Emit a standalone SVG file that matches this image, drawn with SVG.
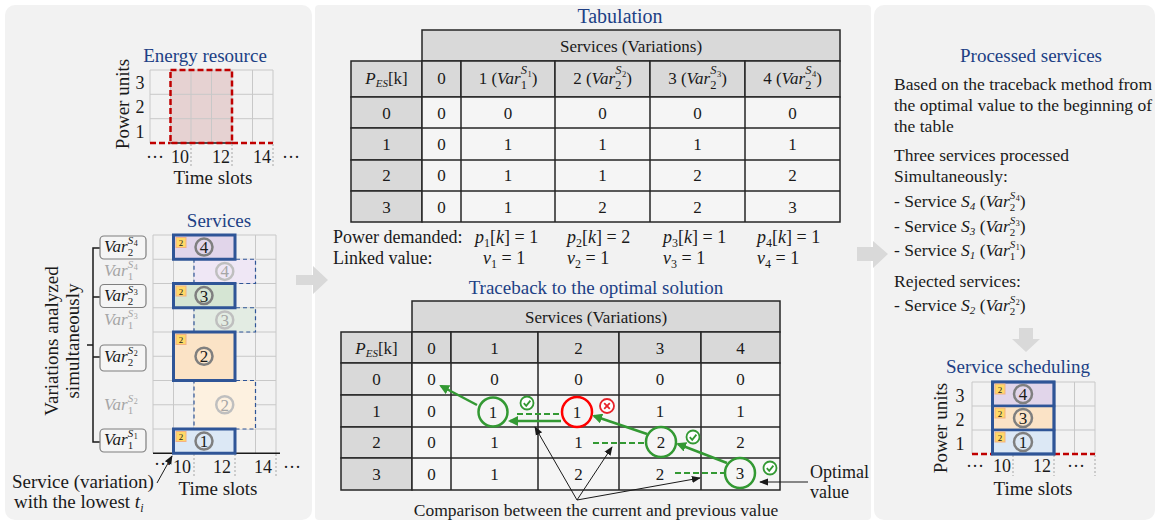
<svg xmlns="http://www.w3.org/2000/svg" width="1159" height="523" viewBox="0 0 1159 523">
<style>
text{font-family:"Liberation Serif","Times New Roman",serif;fill:#1a1a1a}
.t{font-size:18px}
.ax{font-size:19px}
.ttl{font-size:19px;fill:#203f85}
.tc{font-size:17px;text-anchor:middle}
.rp{font-size:17.5px}
.it{font-style:italic}
.g{fill:#a6a6a6}
.grid{stroke:#c8c8c8;stroke-width:1;fill:none}
.hdr{fill:#d9d9d9;stroke:#262626;stroke-width:1.5}
.cell{fill:#f5f5f5;stroke:#262626;stroke-width:1.5}
.sol{stroke:#2f5597;stroke-width:3}
.dsh{stroke:#2f5597;stroke-width:1.2;stroke-dasharray:4 3}
.cir{fill:none;stroke:#7f7f7f;stroke-width:2.5}
.cirl{fill:none;stroke:#bfbfbf;stroke-width:2.5}
.badge{fill:#ffd966;stroke:#f4b183;stroke-width:1}
.bt{font-size:9px}
.dot{stroke:#a6a6a6;stroke-width:1;stroke-dasharray:2 2}
.red{stroke:#c00000;stroke-width:2.5;stroke-dasharray:6 3;fill:none}
.ga{stroke:#339933;stroke-width:2.5;fill:none}
.gd{stroke:#339933;stroke-width:2;stroke-dasharray:6 3;fill:none}
.ba{stroke:#1a1a1a;stroke-width:1;fill:none}
.lbox{fill:#f5f5f5;stroke:#7f7f7f;stroke-width:1.2}
.panel{fill:#f2f2f2}
.garr{fill:#d9d9d9}
.lv{font-size:17px;font-style:italic}
.s11{font-size:11px;font-style:normal}
.S11{font-size:11px;font-style:italic}
.s13{font-size:12.5px;font-style:normal}
.S13{font-size:12.5px;font-style:italic}
.s8{font-size:8px;font-style:normal}
.s9{font-size:8.5px;font-style:normal}
</style>
<defs>
<marker id="mg" viewBox="0 0 10 10" refX="8" refY="5" markerWidth="4" markerHeight="4" orient="auto"><path d="M0,0 L10,5 L0,10 z" fill="#339933"/></marker>
<marker id="mb" viewBox="0 0 10 10" refX="9" refY="5" markerWidth="9" markerHeight="9" orient="auto"><path d="M0,1 L10,5 L0,9 z" fill="#1a1a1a"/></marker>
<g id="chk"><circle r="6.5" fill="#fff" stroke="#339933" stroke-width="1.8"/><path d="M-3.2,0.2 L-0.8,2.8 L3.4,-2.4" stroke="#339933" stroke-width="1.8" fill="none"/></g>
<g id="crs"><circle r="7" fill="#fff" stroke="#e8232a" stroke-width="1.8"/><path d="M-2.8,-2.8 L2.8,2.8 M2.8,-2.8 L-2.8,2.8" stroke="#e8232a" stroke-width="1.8"/></g>
</defs>
<rect width="1159" height="523" fill="#fff"/>
<rect class="panel" x="5" y="5" width="307" height="515" rx="10"/>
<rect class="panel" x="315" y="5" width="556" height="515" rx="4"/>
<rect class="panel" x="874" y="5" width="281" height="515" rx="10"/>

<g id="energy-resource">
<text class="ttl" x="205" y="62" text-anchor="middle">Energy resource</text>
<rect x="170.5" y="70" width="61.5" height="73" fill="#e6d2d2"/>
<path class="grid" d="M150,70H273M150,94.3H273M150,118.7H273M150,70V143M170.5,70V143M191,70V143M211.5,70V143M232,70V143M252.5,70V143M273,70V143"/>
<line x1="170.5" y1="143" x2="232" y2="143" stroke="#1a1a1a" stroke-width="1.5"/>
<rect class="red" x="170.5" y="70" width="61.5" height="73"/>
<path class="red" d="M150,143H170.5M232,143H273"/>
<path class="dot" d="M191,144V168M232,144V168M273,144V168"/>
<text class="t" x="140" y="89" text-anchor="middle">3</text>
<text class="t" x="140" y="113" text-anchor="middle">2</text>
<text class="t" x="140" y="138" text-anchor="middle">1</text>
<text class="ax" transform="translate(129,104) rotate(-90)" text-anchor="middle">Power units</text>
<text class="t" x="155" y="163" text-anchor="middle">···</text>
<text class="t" x="180" y="163" text-anchor="middle">10</text>
<text class="t" x="221" y="163" text-anchor="middle">12</text>
<text class="t" x="262" y="163" text-anchor="middle">14</text>
<text class="t" x="291" y="163" text-anchor="middle">···</text>
<text class="ax" x="213" y="184" text-anchor="middle">Time slots</text>
</g>

<g id="services">
<text class="ttl" x="219" y="227" text-anchor="middle">Services</text>
<path class="grid" d="M153,235H276M153,259.25H276M153,283.5H276M153,307.75H276M153,332H276M153,356.25H276M153,380.5H276M153,404.75H276M153,429H276M153,235V453M173.5,235V453M194,235V453M214.5,235V453M235,235V453M255.5,235V453M276,235V453"/>
<line x1="153" y1="453.25" x2="280" y2="453.25" stroke="#1a1a1a" stroke-width="1.5"/>
<path class="dot" d="M194,454V476M235,454V476M276,454V476"/>
<rect class="dsh" x="194" y="259.25" width="61.5" height="24.25" fill="#efe7f5"/>
<circle class="cirl" cx="224.75" cy="271.4" r="8.5"/><text class="tc g" x="224.75" y="277.3">4</text>
<rect class="sol" x="173.5" y="235" width="61.5" height="24.25" fill="#e1d5ea"/>
<rect class="badge" x="176" y="237.5" width="10" height="10"/><text class="bt" x="181" y="246" text-anchor="middle">2</text>
<circle class="cir" cx="204" cy="247.1" r="8.5"/><text class="tc" x="204" y="253">4</text>
<rect class="dsh" x="194" y="307.75" width="61.5" height="24.25" fill="#e3ece3"/>
<circle class="cirl" cx="224.75" cy="319.9" r="8.5"/><text class="tc g" x="224.75" y="325.8">3</text>
<rect class="sol" x="173.5" y="283.5" width="61.5" height="24.25" fill="#d5e5d3"/>
<rect class="badge" x="176" y="286" width="10" height="10"/><text class="bt" x="181" y="294.5" text-anchor="middle">2</text>
<circle class="cir" cx="204" cy="295.6" r="8.5"/><text class="tc" x="204" y="301.5">3</text>
<rect class="dsh" x="194" y="380.5" width="61.5" height="48.5" fill="#fdf1e0"/>
<circle class="cirl" cx="224.75" cy="404.75" r="8.5"/><text class="tc g" x="224.75" y="410.7">2</text>
<rect class="sol" x="173.5" y="332" width="61.5" height="48.5" fill="#fbe3c6"/>
<rect class="badge" x="176" y="334.5" width="10" height="10"/><text class="bt" x="181" y="343" text-anchor="middle">2</text>
<circle class="cir" cx="204" cy="356.25" r="8.5"/><text class="tc" x="204" y="362.2">2</text>
<rect class="sol" x="173.5" y="429" width="61.5" height="24.25" fill="#dce8f5"/>
<rect class="badge" x="176" y="431.5" width="10" height="10"/><text class="bt" x="181" y="440" text-anchor="middle">2</text>
<circle class="cir" cx="204" cy="441.1" r="8.5"/><text class="tc" x="204" y="447">1</text>
<text class="t" x="163" y="470" text-anchor="middle">···</text>
<text class="t" x="182" y="473" text-anchor="middle">10</text>
<text class="t" x="222" y="473" text-anchor="middle">12</text>
<text class="t" x="263" y="473" text-anchor="middle">14</text>
<text class="t" x="292" y="473" text-anchor="middle">···</text>
<text class="ax" x="218" y="495" text-anchor="middle">Time slots</text>
</g>

<g id="variation-labels">
<path d="M100,248H93V442H100M93,297H100M93,357H100M93,345H87" stroke="#1a1a1a" stroke-width="1.5" fill="none"/>
<text class="ax" transform="translate(58,341) rotate(-90)" text-anchor="middle">Variations analyzed</text>
<text class="ax" transform="translate(79,341) rotate(-90)" text-anchor="middle">simultaneously</text>
<rect class="lbox" x="100" y="236" width="46" height="23" rx="4"/>
<text class="lv" x="104" y="252">Var<tspan class="s11" dy="4">2</tspan><tspan class="S11" dx="-5.5" dy="-12">S</tspan><tspan class="s8" dx="0.5" dy="2">4</tspan></text>
<text class="lv g" x="104" y="276">Var<tspan class="s11" dy="4">1</tspan><tspan class="S11" dx="-5.5" dy="-12">S</tspan><tspan class="s8" dx="0.5" dy="2">4</tspan></text>
<rect class="lbox" x="100" y="284.5" width="46" height="23" rx="4"/>
<text class="lv" x="104" y="300.5">Var<tspan class="s11" dy="4">2</tspan><tspan class="S11" dx="-5.5" dy="-12">S</tspan><tspan class="s8" dx="0.5" dy="2">3</tspan></text>
<text class="lv g" x="104" y="325">Var<tspan class="s11" dy="4">1</tspan><tspan class="S11" dx="-5.5" dy="-12">S</tspan><tspan class="s8" dx="0.5" dy="2">3</tspan></text>
<rect class="lbox" x="100" y="345" width="46" height="26" rx="4"/>
<text class="lv" x="104" y="362">Var<tspan class="s11" dy="4">2</tspan><tspan class="S11" dx="-5.5" dy="-12">S</tspan><tspan class="s8" dx="0.5" dy="2">2</tspan></text>
<text class="lv g" x="104" y="410">Var<tspan class="s11" dy="4">1</tspan><tspan class="S11" dx="-5.5" dy="-12">S</tspan><tspan class="s8" dx="0.5" dy="2">2</tspan></text>
<rect class="lbox" x="100" y="429" width="46" height="23" rx="4"/>
<text class="lv" x="104" y="445">Var<tspan class="s11" dy="4">1</tspan><tspan class="S11" dx="-5.5" dy="-12">S</tspan><tspan class="s8" dx="0.5" dy="2">1</tspan></text>
</g>

<g id="lowest-note">
<text class="ax" x="12" y="488">Service (variation)</text>
<text class="ax" x="14" y="508">with the lowest <tspan class="it">t</tspan><tspan class="it" style="font-size:12px" dy="4">i</tspan></text>
</g>

<g id="tabulation">
<text class="ttl" x="620" y="23" text-anchor="middle" style="font-size:20px">Tabulation</text>
<rect class="hdr" x="422" y="30" width="418" height="31"/>
<text class="tc" x="631" y="52">Services (Variations)</text>
<rect class="hdr" x="351" y="61" width="71" height="36"/>
<rect class="hdr" x="422" y="61" width="39" height="36"/>
<rect class="hdr" x="461" y="61" width="94" height="36"/>
<rect class="hdr" x="555" y="61" width="95" height="36"/>
<rect class="hdr" x="650" y="61" width="95" height="36"/>
<rect class="hdr" x="745" y="61" width="95" height="36"/>
<text class="tc" x="386.5" y="84"><tspan class="it">P</tspan><tspan class="it" style="font-size:11px" dy="3">ES</tspan><tspan dy="-3">[k]</tspan></text>
<text class="tc" x="441.5" y="84">0</text>
<text class="tc" x="508" y="84">1 (<tspan class="it">Var</tspan><tspan class="s13" dy="5">1</tspan><tspan class="S13" dx="-6.3" dy="-15">S</tspan><tspan class="s9" dx="0.5" dy="3">1</tspan><tspan dy="7">)</tspan></text>
<text class="tc" x="602.5" y="84">2 (<tspan class="it">Var</tspan><tspan class="s13" dy="5">2</tspan><tspan class="S13" dx="-6.3" dy="-15">S</tspan><tspan class="s9" dx="0.5" dy="3">2</tspan><tspan dy="7">)</tspan></text>
<text class="tc" x="697.5" y="84">3 (<tspan class="it">Var</tspan><tspan class="s13" dy="5">2</tspan><tspan class="S13" dx="-6.3" dy="-15">S</tspan><tspan class="s9" dx="0.5" dy="3">3</tspan><tspan dy="7">)</tspan></text>
<text class="tc" x="792.5" y="84">4 (<tspan class="it">Var</tspan><tspan class="s13" dy="5">2</tspan><tspan class="S13" dx="-6.3" dy="-15">S</tspan><tspan class="s9" dx="0.5" dy="3">4</tspan><tspan dy="7">)</tspan></text>
<rect class="hdr" x="351" y="97" width="71" height="31"/><rect class="hdr" x="351" y="128" width="71" height="32"/><rect class="hdr" x="351" y="160" width="71" height="31"/><rect class="hdr" x="351" y="191" width="71" height="31"/>
<rect class="cell" x="422" y="97" width="418" height="125"/>
<path d="M422,128H840M422,160H840M422,191H840M461,97V222M555,97V222M650,97V222M745,97V222" stroke="#262626" stroke-width="1.5"/>
<text class="tc" x="386.5" y="119">0</text><text class="tc" x="386.5" y="150">1</text><text class="tc" x="386.5" y="181">2</text><text class="tc" x="386.5" y="213">3</text>
<text class="tc" x="441.5" y="119">0</text><text class="tc" x="441.5" y="150">0</text><text class="tc" x="441.5" y="181">0</text><text class="tc" x="441.5" y="213">0</text>
<text class="tc" x="508" y="119">0</text><text class="tc" x="508" y="150">1</text><text class="tc" x="508" y="181">1</text><text class="tc" x="508" y="213">1</text>
<text class="tc" x="602.5" y="119">0</text><text class="tc" x="602.5" y="150">1</text><text class="tc" x="602.5" y="181">1</text><text class="tc" x="602.5" y="213">2</text>
<text class="tc" x="697.5" y="119">0</text><text class="tc" x="697.5" y="150">1</text><text class="tc" x="697.5" y="181">2</text><text class="tc" x="697.5" y="213">2</text>
<text class="tc" x="792.5" y="119">0</text><text class="tc" x="792.5" y="150">1</text><text class="tc" x="792.5" y="181">2</text><text class="tc" x="792.5" y="213">3</text>
<text class="t" x="333" y="243">Power demanded:</text>
<text class="t" x="333" y="264">Linked value:</text>
<text class="t" x="475" y="243"><tspan class="it">p</tspan><tspan style="font-size:12px" dy="4">1</tspan><tspan dy="-4">[</tspan><tspan class="it">k</tspan>] = 1</text>
<text class="t" x="567" y="243"><tspan class="it">p</tspan><tspan style="font-size:12px" dy="4">2</tspan><tspan dy="-4">[</tspan><tspan class="it">k</tspan>] = 2</text>
<text class="t" x="663" y="243"><tspan class="it">p</tspan><tspan style="font-size:12px" dy="4">3</tspan><tspan dy="-4">[</tspan><tspan class="it">k</tspan>] = 1</text>
<text class="t" x="757" y="243"><tspan class="it">p</tspan><tspan style="font-size:12px" dy="4">4</tspan><tspan dy="-4">[</tspan><tspan class="it">k</tspan>] = 1</text>
<text class="t" x="483" y="264"><tspan class="it">v</tspan><tspan style="font-size:12px" dy="4">1</tspan><tspan dy="-4"> = 1</tspan></text>
<text class="t" x="567" y="264"><tspan class="it">v</tspan><tspan style="font-size:12px" dy="4">2</tspan><tspan dy="-4"> = 1</tspan></text>
<text class="t" x="663" y="264"><tspan class="it">v</tspan><tspan style="font-size:12px" dy="4">3</tspan><tspan dy="-4"> = 1</tspan></text>
<text class="t" x="757" y="264"><tspan class="it">v</tspan><tspan style="font-size:12px" dy="4">4</tspan><tspan dy="-4"> = 1</tspan></text>
</g>

<g id="traceback">
<text class="ttl" x="596" y="294" text-anchor="middle">Traceback to the optimal solution</text>
<rect class="hdr" x="412" y="301" width="368" height="31"/>
<text class="tc" x="596" y="323">Services (Variations)</text>
<rect class="hdr" x="341" y="332" width="71" height="31"/>
<rect class="hdr" x="412" y="332" width="39" height="31"/>
<rect class="hdr" x="451" y="332" width="87" height="31"/>
<rect class="hdr" x="538" y="332" width="81" height="31"/>
<rect class="hdr" x="619" y="332" width="82" height="31"/>
<rect class="hdr" x="701" y="332" width="79" height="31"/>
<text class="tc" x="376.5" y="354"><tspan class="it">P</tspan><tspan class="it" style="font-size:11px" dy="3">ES</tspan><tspan dy="-3">[k]</tspan></text>
<text class="tc" x="431.5" y="354">0</text><text class="tc" x="494.5" y="354">1</text><text class="tc" x="578.5" y="354">2</text><text class="tc" x="660" y="354">3</text><text class="tc" x="740.5" y="354">4</text>
<rect class="hdr" x="341" y="363" width="71" height="32"/><rect class="hdr" x="341" y="395" width="71" height="32"/><rect class="hdr" x="341" y="427" width="71" height="31"/><rect class="hdr" x="341" y="458" width="71" height="32"/>
<rect class="cell" x="412" y="363" width="368" height="127"/>
<path d="M412,395H780M412,427H780M412,458H780M451,363V490M538,363V490M619,363V490M701,363V490" stroke="#262626" stroke-width="1.5"/>
<text class="tc" x="376.5" y="385">0</text><text class="tc" x="376.5" y="417">1</text><text class="tc" x="376.5" y="448">2</text><text class="tc" x="376.5" y="480">3</text>
<text class="tc" x="431.5" y="385">0</text><text class="tc" x="431.5" y="417">0</text><text class="tc" x="431.5" y="448">0</text><text class="tc" x="431.5" y="480">0</text>
<text class="tc" x="494.5" y="385">0</text><text class="tc" x="493" y="418">1</text><text class="tc" x="494.5" y="448">1</text><text class="tc" x="494.5" y="480">1</text>
<text class="tc" x="578.5" y="385">0</text><text class="tc" x="577" y="418">1</text><text class="tc" x="578.5" y="448">1</text><text class="tc" x="578.5" y="480">2</text>
<text class="tc" x="660" y="385">0</text><text class="tc" x="660" y="417">1</text><text class="tc" x="661" y="448">2</text><text class="tc" x="660" y="480">2</text>
<text class="tc" x="740.5" y="385">0</text><text class="tc" x="740.5" y="417">1</text><text class="tc" x="740.5" y="448">2</text><text class="tc" x="740" y="479">3</text>
<circle cx="493" cy="412" r="14.5" fill="none" stroke="#339933" stroke-width="2.5"/>
<circle cx="577" cy="412" r="15" fill="none" stroke="#ff0000" stroke-width="2.5"/>
<circle cx="661" cy="442" r="15" fill="none" stroke="#339933" stroke-width="2.5"/>
<circle cx="740" cy="473" r="15" fill="none" stroke="#339933" stroke-width="2.5"/>
<use href="#chk" x="527" y="403"/>
<use href="#crs" x="607" y="406"/>
<use href="#chk" x="693" y="437"/>
<use href="#chk" x="770" y="468"/>
</g>

<g id="connectors">
<line class="ga" x1="477" y1="405" x2="441" y2="386" marker-end="url(#mg)"/>
<line class="ga" x1="561" y1="421" x2="510" y2="421" marker-end="url(#mg)"/>
<line class="ga" x1="647" y1="434" x2="594" y2="416" marker-end="url(#mg)"/>
<line class="ga" x1="727" y1="463" x2="678" y2="444" marker-end="url(#mg)"/>
<line class="gd" x1="517" y1="414" x2="561" y2="414"/>
<line class="gd" x1="593" y1="443" x2="645" y2="443"/>
<line class="gd" x1="675" y1="473" x2="725" y2="473"/>
<line class="ba" x1="577" y1="500" x2="535" y2="427" marker-end="url(#mb)"/>
<line class="ba" x1="577" y1="500" x2="612" y2="447" marker-end="url(#mb)"/>
<line class="ba" x1="577" y1="500" x2="700" y2="478" marker-end="url(#mb)"/>
<line class="ba" x1="808" y1="482" x2="760" y2="482" marker-end="url(#mb)"/>
<line class="ba" x1="157" y1="483" x2="172" y2="456" marker-end="url(#mb)"/>
<path class="garr" d="M296,275H313V266L328,280L313,294V285H296Z"/>
<path class="garr" d="M857,247H873V241L888,254L873,268V261H857Z"/>
<path class="garr" d="M1019,328H1033V339H1040L1026,352L1012,339H1019Z"/>
</g>

<g id="notes">
<text class="t" x="596" y="516" text-anchor="middle" style="font-size:17.5px">Comparison between the current and previous value</text>
<text class="t" x="810" y="478">Optimal</text>
<text class="t" x="810" y="498">value</text>
</g>

<g id="processed-services">
<text class="ttl" x="1031" y="62" text-anchor="middle">Processed services</text>
<text class="rp" x="894" y="90" textLength="258">Based on the traceback method from</text>
<text class="rp" x="894" y="111" textLength="258">the optimal value to the beginning of</text>
<text class="rp" x="894" y="132">the table</text>
<text class="rp" x="894" y="161">Three services processed</text>
<text class="rp" x="894" y="182">Simultaneously:</text>
<text class="rp" x="894" y="207">- Service <tspan class="it">S</tspan><tspan class="it" style="font-size:11px" dy="3">4</tspan><tspan dy="-3"> (</tspan><tspan class="it">Var</tspan><tspan class="s11" dy="4">2</tspan><tspan class="S11" dx="-5.5" dy="-12">S</tspan><tspan class="s8" dx="0.5" dy="2">4</tspan><tspan dy="6">)</tspan></text>
<text class="rp" x="894" y="231.5">- Service <tspan class="it">S</tspan><tspan class="it" style="font-size:11px" dy="3">3</tspan><tspan dy="-3"> (</tspan><tspan class="it">Var</tspan><tspan class="s11" dy="4">2</tspan><tspan class="S11" dx="-5.5" dy="-12">S</tspan><tspan class="s8" dx="0.5" dy="2">3</tspan><tspan dy="6">)</tspan></text>
<text class="rp" x="894" y="256">- Service <tspan class="it">S</tspan><tspan class="it" style="font-size:11px" dy="3">1</tspan><tspan dy="-3"> (</tspan><tspan class="it">Var</tspan><tspan class="s11" dy="4">1</tspan><tspan class="S11" dx="-5.5" dy="-12">S</tspan><tspan class="s8" dx="0.5" dy="2">1</tspan><tspan dy="6">)</tspan></text>
<text class="rp" x="894" y="287">Rejected services:</text>
<text class="rp" x="894" y="311">- Service <tspan class="it">S</tspan><tspan class="it" style="font-size:11px" dy="3">2</tspan><tspan dy="-3"> (</tspan><tspan class="it">Var</tspan><tspan class="s11" dy="4">2</tspan><tspan class="S11" dx="-5.5" dy="-12">S</tspan><tspan class="s8" dx="0.5" dy="2">2</tspan><tspan dy="6">)</tspan></text>
</g>

<g id="service-scheduling">
<text class="ttl" x="1018" y="373" text-anchor="middle">Service scheduling</text>
<path class="grid" d="M972,382H1095M972,406H1095M972,430H1095M972,382V454M992.5,382V454M1013,382V454M1033.5,382V454M1054,382V454M1074.5,382V454M1095,382V454"/>
<path class="red" d="M972,454H992.5M1054,454H1095"/>
<path class="dot" d="M1013,455V476M1054,455V476M1095,455V476"/>
<rect x="992.5" y="382" width="61.5" height="24" fill="#e1d5ea" stroke="#2f5597" stroke-width="2.5"/>
<rect x="992.5" y="406" width="61.5" height="24" fill="#fbe3c6" stroke="#2f5597" stroke-width="2.5"/>
<rect x="992.5" y="430" width="61.5" height="24" fill="#dce8f5" stroke="#2f5597" stroke-width="2.5"/>
<rect class="sol" x="992.5" y="382" width="61.5" height="72" fill="none"/>
<rect class="badge" x="995" y="384" width="10" height="10"/><text class="bt" x="1000" y="392.5" text-anchor="middle">2</text>
<rect class="badge" x="995" y="408" width="10" height="10"/><text class="bt" x="1000" y="416.5" text-anchor="middle">2</text>
<rect class="badge" x="995" y="432" width="10" height="10"/><text class="bt" x="1000" y="440.5" text-anchor="middle">2</text>
<circle class="cir" cx="1023" cy="394" r="9"/><text class="tc" x="1023" y="400">4</text>
<circle class="cir" cx="1023" cy="418" r="9"/><text class="tc" x="1023" y="424">3</text>
<circle class="cir" cx="1023" cy="442" r="9"/><text class="tc" x="1023" y="448">1</text>
<text class="t" x="960" y="402" text-anchor="middle">3</text>
<text class="t" x="960" y="426" text-anchor="middle">2</text>
<text class="t" x="960" y="450" text-anchor="middle">1</text>
<text class="ax" transform="translate(947,428) rotate(-90)" text-anchor="middle">Power units</text>
<text class="t" x="975" y="472" text-anchor="middle">···</text>
<text class="t" x="1002" y="472" text-anchor="middle">10</text>
<text class="t" x="1042" y="472" text-anchor="middle">12</text>
<text class="t" x="1076" y="472" text-anchor="middle">···</text>
<text class="ax" x="1033" y="495" text-anchor="middle">Time slots</text>
</g>
</svg>
